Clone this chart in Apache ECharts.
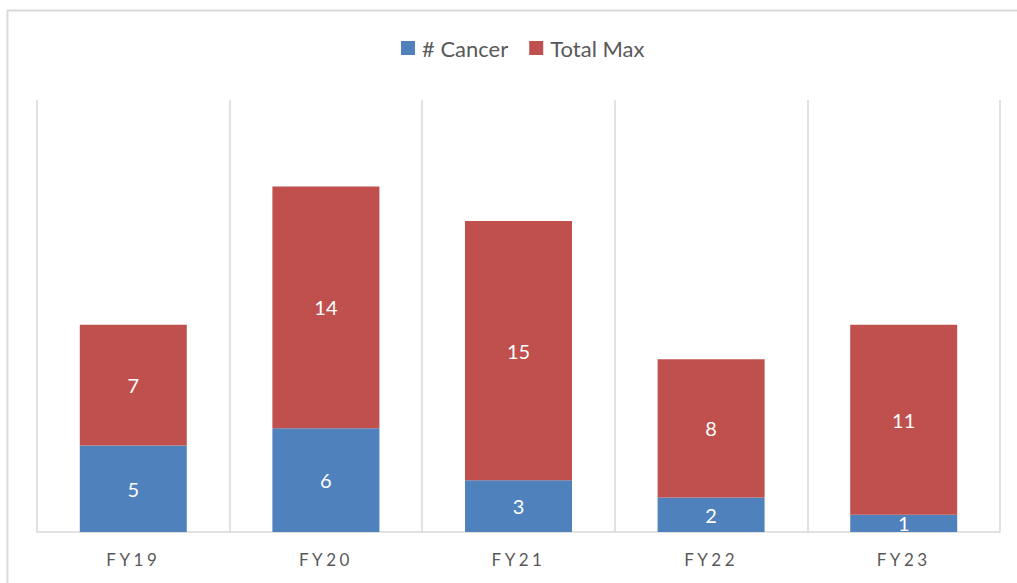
<!DOCTYPE html>
<html>
<head>
<meta charset="utf-8">
<style>
  html, body { margin: 0; padding: 0; background: #fff; }
  #chart { width: 1017px; height: 583px; }
</style>
<script src="https://cdn.jsdelivr.net/npm/echarts@6/dist/echarts.min.js"></script>
</head>
<body>
<div id="chart"></div>
<script>
// Fiscal years on the category axis
const categories = ['FY19', 'FY20', 'FY21', 'FY22', 'FY23'];
// Stacked series values
const cancerCounts = [5, 6, 3, 2, 1];
const totalMaxCounts = [7, 14, 15, 8, 11];

const FONT = 'Lato, "Open Sans", sans-serif';

const chart = echarts.init(document.getElementById('chart'), null, { renderer: 'svg' });

const labelStyle = {
  show: true,
  position: 'inside',
  color: '#ffffff',
  fontFamily: FONT,
  fontSize: 20
};

chart.setOption({
  animation: false,
  backgroundColor: '#ffffff',
  graphic: [{
    type: 'rect',
    shape: { x: 7.5, y: 10.5, width: 1030, height: 600 },
    style: { fill: 'none', stroke: '#d9d9d9', lineWidth: 2 },
    silent: true
  }],
  legend: {
    top: 37,
    left: 401,
    padding: 0,
    itemWidth: 14,
    itemHeight: 14,
    itemGap: 21,
    icon: 'rect',
    textStyle: { color: '#595959', fontFamily: FONT, fontSize: 22, padding: [0, 0, 0, 2] },
    data: ['# Cancer', 'Total Max']
  },
  grid: { left: 37, right: 17, top: 100, bottom: 51 },
  xAxis: {
    type: 'category',
    data: categories,
    boundaryGap: true,
    axisLine: { show: true, lineStyle: { color: '#d9d9d9', width: 1.5 } },
    axisTick: { show: false },
    splitLine: { show: true, lineStyle: { color: '#d9d9d9', width: 1.5 } },
    axisLabel: { color: '#595959', fontFamily: FONT, fontSize: 17, margin: 19 }
  },
  yAxis: {
    type: 'value',
    min: 0,
    max: 25,
    show: false,
    splitLine: { show: false }
  },
  series: [
    {
      name: '# Cancer',
      type: 'bar',
      stack: 'total',
      barWidth: 107,
      itemStyle: { color: '#4f81bd' },
      label: labelStyle,
      data: cancerCounts
    },
    {
      name: 'Total Max',
      type: 'bar',
      stack: 'total',
      barWidth: 107,
      itemStyle: { color: '#c0504d' },
      label: labelStyle,
      data: totalMaxCounts
    }
  ]
});

// Widen the tracking of the fiscal-year axis labels
function spaceAxisLabels() {
  document.querySelectorAll('#chart text').forEach(function (t) {
    if (categories.indexOf(t.textContent) >= 0) {
      t.style.letterSpacing = '3.5px';
    }
  });
}
chart.on('finished', spaceAxisLabels);
spaceAxisLabels();
</script>
</body>
</html>
